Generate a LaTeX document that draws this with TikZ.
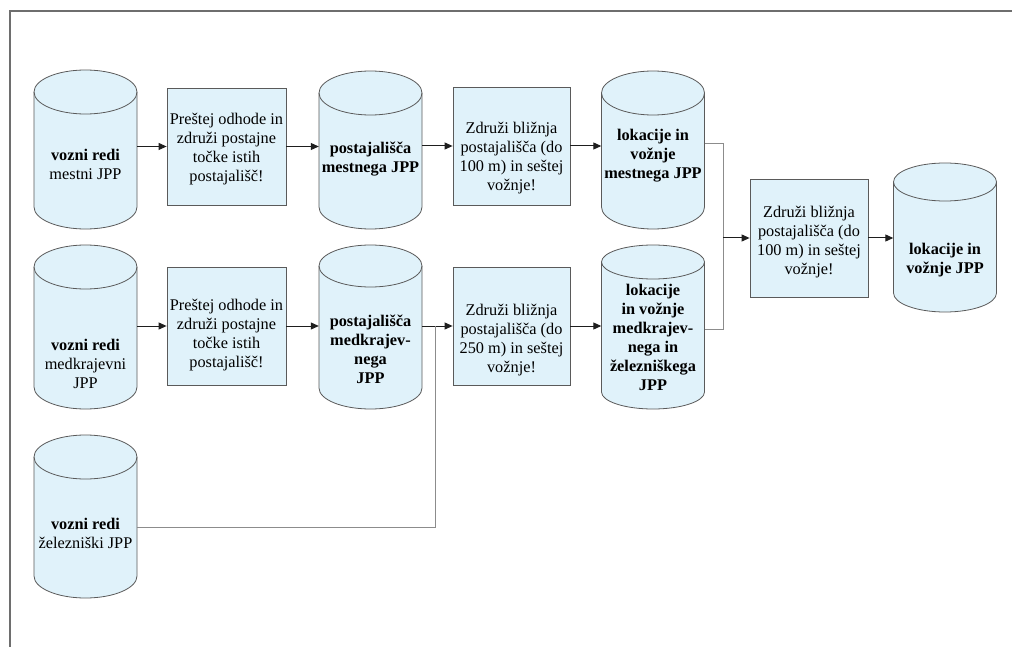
\documentclass[tikz,border=0pt]{standalone}
\usepackage{fontspec}
\setmainfont{Liberation Serif}
\newfontfamily\diagfont{Liberation Serif}
\usetikzlibrary{arrows.meta,calc}
\definecolor{cylfillc}{HTML}{E0F2FA}
\definecolor{edgec}{HTML}{5A5A5A}
\definecolor{framec}{HTML}{6E6E6E}
\definecolor{greyline}{HTML}{8C8C8C}
\definecolor{arrc}{HTML}{1E1E1E}
\tikzset{
  cylpath/.style={fill=cylfillc,draw=edgec,line width=0.8pt},
  cylline/.style={draw=edgec,line width=0.8pt},
  anchorbox/.style={rectangle,draw=none,inner sep=0pt,minimum width=103pt},
  procbox/.style={rectangle,fill=cylfillc,draw=edgec,line width=0.8pt,inner sep=0pt},
  txt/.style={align=center,inner sep=0pt,font=\diagfont\fontsize{16.3}{19}\selectfont,text=black},
  arr/.style={draw=arrc,line width=1pt,-{Triangle[length=8pt,width=7pt]}},
  gline/.style={draw=greyline,line width=1pt},
  frame/.style={draw=framec,line width=1.6pt}
}
\newcommand\dcyl[5]{%
  \path[cylpath] (#2-51.5,#3+#5) -- (#2-51.5,#4-#5)
    arc[start angle=180,end angle=0,x radius=51.5,y radius=#5]
    -- (#2+51.5,#3+#5)
    arc[start angle=0,end angle=-180,x radius=51.5,y radius=#5] -- cycle;
  \draw[cylline] (#2+51.5,#3+#5) arc[start angle=0,end angle=180,x radius=51.5,y radius=#5];
  \node[anchorbox,minimum height={#4-#3}] (#1) at (#2,{(#3+#4)/2}) {};
}
\newcommand\pbox[5]{%
  \node[procbox,minimum width={#3-#2},minimum height={#5-#4}] (#1) at ({(#2+#3)/2},{(#4+#5)/2}) {};
}
\begin{document}
\begin{tikzpicture}[x=1pt,y=-1pt]
\useasboundingbox (0,0) rectangle (1012,647);
\fill[white] (0,0) rectangle (1012,647);
\draw[frame] (10,647) -- (10,11) -- (1012,11);

% cylinders
\dcyl{c1}{85.5}{70}{229}{22}
\dcyl{c2}{370.5}{71}{229}{22}
\dcyl{c3}{653}{71}{229}{22}
\dcyl{c4}{85.5}{245}{409}{22}
\dcyl{c5}{370.5}{245}{409}{21}
\dcyl{c7}{653}{245}{409}{17}
\dcyl{c6}{85.5}{435}{598}{22}
\dcyl{c8}{945}{163}{312}{19}

% process boxes
\pbox{b1}{167}{286}{88}{205}
\pbox{b2}{453}{570}{87}{205}
\pbox{b3}{167}{286}{267}{385}
\pbox{b4}{453}{570}{267}{385}
\pbox{b5}{750}{868}{179}{297}

% texts
\node[txt] (c1t) at (85.5,164) {\textbf{vozni redi}\\mestni JPP};
\node[txt] (c2t) at (370.5,159) {\textbf{postajališča}\\\textbf{mestnega JPP}};
\node[txt] (c3t) at (653,156) {\textbf{lokacije in}\\\textbf{vožnje}\\\textbf{mestnega JPP}};
\node[txt] (c4t) at (85.5,364) {\textbf{vozni redi}\\medkrajevni\\JPP};
\node[txt] (c5t) at (370.5,349) {\textbf{postajališča}\\\textbf{medkrajev-}\\\textbf{nega}\\\textbf{JPP}};
\node[txt] (c7t) at (653,337) {\textbf{lokacije}\\\textbf{in vožnje}\\\textbf{medkrajev-}\\\textbf{nega in}\\\textbf{železniškega}\\\textbf{JPP}};
\node[txt] (c6t) at (85.5,533) {\textbf{vozni redi}\\železniški JPP};
\node[txt] (c8t) at (945,260) {\textbf{lokacije in}\\\textbf{vožnje JPP}};

\node[txt] (b1t) at (226.5,149) {Preštej odhode in\\združi postajne\\točke istih\\postajališč!};
\node[txt] (b2t) at (511.5,158) {Združi bližnja\\postajališča (do\\100 m) in seštej\\vožnje!};
\node[txt] (b3t) at (226.5,335) {Preštej odhode in\\združi postajne\\točke istih\\postajališč!};
\node[txt] (b4t) at (511.5,340) {Združi bližnja\\postajališča (do\\250 m) in seštej\\vožnje!};
\node[txt] (b5t) at (809,242) {Združi bližnja\\postajališča (do\\100 m) in seštej\\vožnje!};

% junction points
\coordinate (j1a) at (723,144);
\coordinate (j1b) at (723,329);
\coordinate (j2) at (435,527);

% connectors
\draw[arr] (c1.east |- b1.west) -- (b1.west);
\draw[arr] (b1.east) -- (c2.west |- b1.east);
\draw[arr] (c2.east |- b2.west) -- (b2.west);
\draw[arr] (b2.east) -- (c3.west |- b2.east);

\draw[arr] (c4.east |- b3.west) -- (b3.west);
\draw[arr] (b3.east) -- (c5.west |- b3.east);
\draw[arr] (c5.east |- b4.west) -- (b4.west);
\draw[arr] (b4.east) -- (c7.west |- b4.east);

\draw[gline] (c6.east |- j2) -- (j2) -- (j2 |- b4.west);

\draw[gline] (c3.east |- j1a) -- (j1a) -- (j1b) -- (c7.east |- j1b);
\draw[arr] (j1a |- b5.west) -- (b5.west);
\draw[arr] (b5.east) -- (c8.west |- b5.east);
\end{tikzpicture}
\end{document}
